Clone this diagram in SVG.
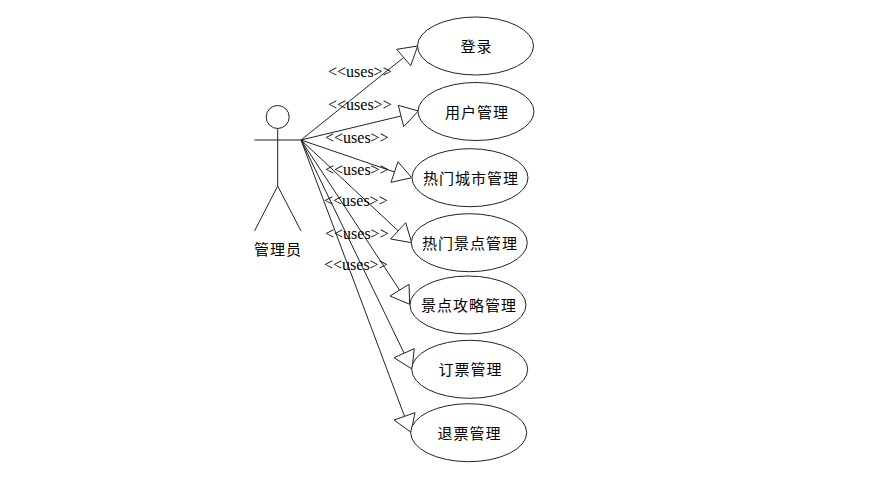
<svg xmlns="http://www.w3.org/2000/svg" width="884" height="479" viewBox="0 0 884 479">
<style>
.s{fill:none;stroke:#222;stroke-width:1}
.e{fill:#fff;stroke:#222;stroke-width:1}
.h{fill:#fff;stroke:#222;stroke-width:1}
.t{font-family:"Noto Sans CJK SC","Liberation Sans",sans-serif;font-size:15px;fill:#000;text-anchor:middle;letter-spacing:1px}
.u{font-family:"Liberation Serif",serif;font-size:16px;fill:#000}
</style>
<rect width="884" height="479" fill="#fff"/>
<g id="connectors">
<path class="s" d="M301 140L403.7 57.5"/><path class="h" d="M417.7 46L396.7 49.3L410.7 65.7Z"/>
<path class="s" d="M301 140L401 116"/><path class="h" d="M418.3 111L398.3 105.3L403.7 126.7Z"/>
<path class="s" d="M301 140L394.500 172"/><path class="h" d="M411.700 177.700L398 161.700L391 182.300Z"/>
<path class="s" d="M301 140L398 230.700"/><path class="h" d="M411.700 242.700L405.700 222.700L390.700 239Z"/>
<path class="s" d="M301 140L399.500 290"/><path class="h" d="M409.700 304.300L390 296L409 284.300Z"/>
<path class="s" d="M301 140L404 353"/><path class="h" d="M412 369L394 357.700L414.300 348.700Z"/>
<path class="s" d="M301 140L404.500 416.300"/><path class="h" d="M411 432.300L394 420L415 412.700Z"/>
</g>
<g id="actor">
<circle class="s" cx="277.700" cy="117" r="11.500"/>
<path class="s" d="M254.500 140H301M277.700 128.500V186L254.500 231M277.700 186L301 231"/>
<text class="t" x="278" y="255">管理员</text>
</g>
<g id="uc1"><ellipse class="e" cx="475.500" cy="46" rx="58" ry="29"/><text class="t" x="476.500" y="52">登录</text></g>
<g id="uc2"><ellipse class="e" cx="476" cy="111.500" rx="58" ry="29"/><text class="t" x="477" y="118">用户管理</text></g>
<g id="uc3"><ellipse class="e" cx="470" cy="177.700" rx="58" ry="29"/><text class="t" x="471" y="184">热门城市管理</text></g>
<g id="uc4"><ellipse class="e" cx="469.300" cy="242.700" rx="58" ry="29"/><text class="t" x="470" y="249">热门景点管理</text></g>
<g id="uc5"><ellipse class="e" cx="468" cy="305" rx="58" ry="29"/><text class="t" x="469" y="311">景点攻略管理</text></g>
<g id="uc6"><ellipse class="e" cx="469.700" cy="369.300" rx="58" ry="29"/><text class="t" x="470.500" y="375">订票管理</text></g>
<g id="uc7"><ellipse class="e" cx="468.700" cy="432.700" rx="58" ry="29"/><text class="t" x="469.500" y="439">退票管理</text></g>
<g id="labels">
<text class="u" x="328" y="77">&lt;&lt;uses&gt;&gt;</text>
<text class="u" x="328" y="110">&lt;&lt;uses&gt;&gt;</text>
<text class="u" x="325" y="143">&lt;&lt;uses&gt;&gt;</text>
<text class="u" x="325" y="175">&lt;&lt;uses&gt;&gt;</text>
<text class="u" x="324" y="206">&lt;&lt;uses&gt;&gt;</text>
<text class="u" x="325" y="239">&lt;&lt;uses&gt;&gt;</text>
<text class="u" x="324" y="270">&lt;&lt;uses&gt;&gt;</text>
</g>
</svg>
